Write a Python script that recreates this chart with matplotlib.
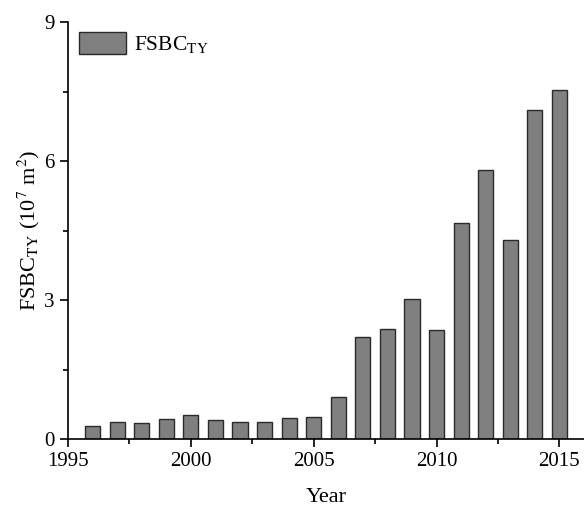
import numpy as np
import matplotlib
matplotlib.use('Agg')
import matplotlib.pyplot as plt
from matplotlib.ticker import MultipleLocator

plt.rcParams['font.family'] = ['Liberation Serif', 'DejaVu Serif']
plt.rcParams['mathtext.fontset'] = 'stix'

# Annual floor space of buildings completed (10^7 m^2)
years = np.arange(1996, 2016)
fsbc = [0.29, 0.36, 0.35, 0.43, 0.52, 0.42, 0.37, 0.37, 0.45, 0.48,
        0.91, 2.21, 2.38, 3.02, 2.35, 4.67, 5.80, 4.29, 7.11, 7.53]

fig = plt.figure(figsize=(5.84, 5.07), dpi=100)
ax = fig.add_axes([0.1164, 0.134, 0.8836, 0.8225])

ax.bar(years, fsbc, width=0.62, color='#808080', edgecolor='#2a2a2a',
       linewidth=1.0, label=r'FSBC$_{\mathrm{TY}}$')

ax.set_xlim(1995, 2016)
ax.set_ylim(0, 9)
ax.xaxis.set_major_locator(MultipleLocator(5))
ax.xaxis.set_minor_locator(MultipleLocator(2.5))
ax.yaxis.set_major_locator(MultipleLocator(3))
ax.yaxis.set_minor_locator(MultipleLocator(1.5))
ax.tick_params(which='major', direction='out', length=6, width=1.2, labelsize=15)
ax.tick_params(which='minor', direction='out', length=3.5, width=1.2)

for side in ('top', 'right'):
    ax.spines[side].set_visible(False)
for side in ('left', 'bottom'):
    ax.spines[side].set_linewidth(1.2)

ax.set_xlabel('Year', fontsize=16, labelpad=12)
ax.set_ylabel(r'FSBC$_{\mathrm{TY}}$ (10$^7$ m$^2$)', fontsize=16, labelpad=2)

ax.legend(loc='upper left', frameon=False, fontsize=15.5, handlelength=2.2,
          handleheight=1.15, handletextpad=0.35, borderaxespad=0,
          borderpad=0, bbox_to_anchor=(0.021, 0.975))

fig.savefig('out.png', dpi=100)
